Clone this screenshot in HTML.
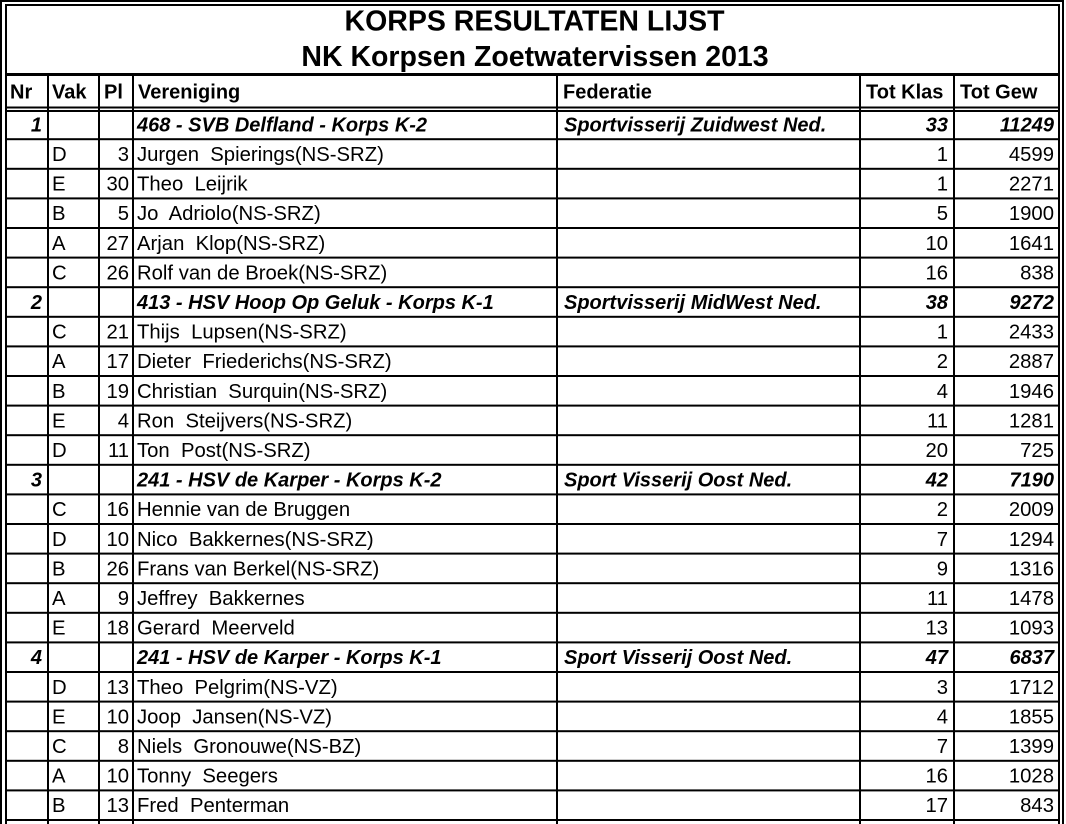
<!DOCTYPE html>
<html><head><meta charset="utf-8"><style>
html,body{margin:0;padding:0;background:#fff;}
svg{display:block;}
text{font-family:"Liberation Sans",Arial,sans-serif;font-size:20.3px;fill:#000;white-space:pre;}
.b{font-weight:bold;font-size:20px;}
.bi{font-weight:bold;font-style:italic;font-size:20px;}
.t{font-weight:bold;font-size:28.5px;}
.r{text-anchor:end;}
</style></head><body>
<svg width="1066" height="824" viewBox="0 0 1066 824" xmlns="http://www.w3.org/2000/svg">
<rect x="0" y="0" width="1066" height="824" fill="#fff"/>
<g fill="#000">
<rect x="0" y="0" width="1064" height="2"/>
<rect x="0" y="0" width="2" height="824"/>
<rect x="1062" y="0" width="2" height="824"/>
<rect x="5" y="4" width="1055" height="2"/>
<rect x="5" y="4" width="2" height="820"/>
<rect x="1058" y="4" width="2" height="820"/>
<rect x="5" y="73" width="1055" height="3"/>
<rect x="5" y="106.5" width="1055" height="2"/>
<rect x="5" y="110" width="1055" height="2"/>
<rect x="47" y="76" width="2" height="748"/>
<rect x="98" y="76" width="2" height="748"/>
<rect x="132" y="76" width="2" height="748"/>
<rect x="556" y="76" width="2" height="748"/>
<rect x="859" y="76" width="2" height="748"/>
<rect x="953" y="76" width="2" height="748"/>
<rect x="5" y="138.2" width="1055" height="2"/>
<rect x="5" y="167.8" width="1055" height="2"/>
<rect x="5" y="197.4" width="1055" height="2"/>
<rect x="5" y="227.0" width="1055" height="2"/>
<rect x="5" y="256.6" width="1055" height="2"/>
<rect x="5" y="286.2" width="1055" height="2"/>
<rect x="5" y="315.8" width="1055" height="2"/>
<rect x="5" y="345.4" width="1055" height="2"/>
<rect x="5" y="375.0" width="1055" height="2"/>
<rect x="5" y="404.6" width="1055" height="2"/>
<rect x="5" y="434.2" width="1055" height="2"/>
<rect x="5" y="463.8" width="1055" height="2"/>
<rect x="5" y="493.4" width="1055" height="2"/>
<rect x="5" y="523.0" width="1055" height="2"/>
<rect x="5" y="552.6" width="1055" height="2"/>
<rect x="5" y="582.2" width="1055" height="2"/>
<rect x="5" y="611.8" width="1055" height="2"/>
<rect x="5" y="641.4" width="1055" height="2"/>
<rect x="5" y="671.0" width="1055" height="2"/>
<rect x="5" y="700.6" width="1055" height="2"/>
<rect x="5" y="730.2" width="1055" height="2"/>
<rect x="5" y="759.8" width="1055" height="2"/>
<rect x="5" y="789.4" width="1055" height="2"/>
<rect x="5" y="819.0" width="1055" height="2"/>
</g>

<text class="t" x="534.5" y="30.5" text-anchor="middle">KORPS RESULTATEN LIJST</text>
<text class="t" x="535" y="66" text-anchor="middle">NK Korpsen Zoetwatervissen 2013</text>

<text class="b" x="10" y="98.7">Nr</text>
<text class="b" x="52" y="98.7">Vak</text>
<text class="b" x="104" y="98.7">Pl</text>
<text class="b" x="138" y="98.7">Vereniging</text>
<text class="b" x="563" y="98.7">Federatie</text>
<text class="b" x="866" y="98.7">Tot Klas</text>
<text class="b" x="960" y="98.7">Tot Gew</text>

<text class="bi r" x="42" y="131.4">1</text>
<text class="bi" x="137" y="131.4">468 - SVB Delfland - Korps K-2</text>
<text class="bi" x="564" y="131.4">Sportvisserij Zuidwest Ned.</text>
<text class="bi r" x="948" y="131.4">33</text>
<text class="bi r" x="1054" y="131.4">11249</text>

<text x="52" y="161.0">D</text><text class="r" x="129" y="161.0">3</text><text x="137" y="161.0">Jurgen  Spierings(NS-SRZ)</text><text class="r" x="948" y="161.0">1</text><text class="r" x="1054" y="161.0">4599</text>
<text x="52" y="190.6">E</text><text class="r" x="129" y="190.6">30</text><text x="137" y="190.6">Theo  Leijrik</text><text class="r" x="948" y="190.6">1</text><text class="r" x="1054" y="190.6">2271</text>
<text x="52" y="220.2">B</text><text class="r" x="129" y="220.2">5</text><text x="137" y="220.2">Jo  Adriolo(NS-SRZ)</text><text class="r" x="948" y="220.2">5</text><text class="r" x="1054" y="220.2">1900</text>
<text x="52" y="249.8">A</text><text class="r" x="129" y="249.8">27</text><text x="137" y="249.8">Arjan  Klop(NS-SRZ)</text><text class="r" x="948" y="249.8">10</text><text class="r" x="1054" y="249.8">1641</text>
<text x="52" y="279.4">C</text><text class="r" x="129" y="279.4">26</text><text x="137" y="279.4">Rolf van de Broek(NS-SRZ)</text><text class="r" x="948" y="279.4">16</text><text class="r" x="1054" y="279.4">838</text>

<text class="bi r" x="42" y="309.0">2</text>
<text class="bi" x="137" y="309.0">413 - HSV Hoop Op Geluk - Korps K-1</text>
<text class="bi" x="564" y="309.0">Sportvisserij MidWest Ned.</text>
<text class="bi r" x="948" y="309.0">38</text>
<text class="bi r" x="1054" y="309.0">9272</text>

<text x="52" y="338.6">C</text><text class="r" x="129" y="338.6">21</text><text x="137" y="338.6">Thijs  Lupsen(NS-SRZ)</text><text class="r" x="948" y="338.6">1</text><text class="r" x="1054" y="338.6">2433</text>
<text x="52" y="368.2">A</text><text class="r" x="129" y="368.2">17</text><text x="137" y="368.2">Dieter  Friederichs(NS-SRZ)</text><text class="r" x="948" y="368.2">2</text><text class="r" x="1054" y="368.2">2887</text>
<text x="52" y="397.8">B</text><text class="r" x="129" y="397.8">19</text><text x="137" y="397.8">Christian  Surquin(NS-SRZ)</text><text class="r" x="948" y="397.8">4</text><text class="r" x="1054" y="397.8">1946</text>
<text x="52" y="427.4">E</text><text class="r" x="129" y="427.4">4</text><text x="137" y="427.4">Ron  Steijvers(NS-SRZ)</text><text class="r" x="948" y="427.4">11</text><text class="r" x="1054" y="427.4">1281</text>
<text x="52" y="457.0">D</text><text class="r" x="129" y="457.0">11</text><text x="137" y="457.0">Ton  Post(NS-SRZ)</text><text class="r" x="948" y="457.0">20</text><text class="r" x="1054" y="457.0">725</text>

<text class="bi r" x="42" y="486.6">3</text>
<text class="bi" x="137" y="486.6">241 - HSV de Karper - Korps K-2</text>
<text class="bi" x="564" y="486.6">Sport Visserij Oost Ned.</text>
<text class="bi r" x="948" y="486.6">42</text>
<text class="bi r" x="1054" y="486.6">7190</text>

<text x="52" y="516.2">C</text><text class="r" x="129" y="516.2">16</text><text x="137" y="516.2">Hennie van de Bruggen</text><text class="r" x="948" y="516.2">2</text><text class="r" x="1054" y="516.2">2009</text>
<text x="52" y="545.8">D</text><text class="r" x="129" y="545.8">10</text><text x="137" y="545.8">Nico  Bakkernes(NS-SRZ)</text><text class="r" x="948" y="545.8">7</text><text class="r" x="1054" y="545.8">1294</text>
<text x="52" y="575.4">B</text><text class="r" x="129" y="575.4">26</text><text x="137" y="575.4">Frans van Berkel(NS-SRZ)</text><text class="r" x="948" y="575.4">9</text><text class="r" x="1054" y="575.4">1316</text>
<text x="52" y="605.0">A</text><text class="r" x="129" y="605.0">9</text><text x="137" y="605.0">Jeffrey  Bakkernes</text><text class="r" x="948" y="605.0">11</text><text class="r" x="1054" y="605.0">1478</text>
<text x="52" y="634.6">E</text><text class="r" x="129" y="634.6">18</text><text x="137" y="634.6">Gerard  Meerveld</text><text class="r" x="948" y="634.6">13</text><text class="r" x="1054" y="634.6">1093</text>

<text class="bi r" x="42" y="664.2">4</text>
<text class="bi" x="137" y="664.2">241 - HSV de Karper - Korps K-1</text>
<text class="bi" x="564" y="664.2">Sport Visserij Oost Ned.</text>
<text class="bi r" x="948" y="664.2">47</text>
<text class="bi r" x="1054" y="664.2">6837</text>

<text x="52" y="693.8">D</text><text class="r" x="129" y="693.8">13</text><text x="137" y="693.8">Theo  Pelgrim(NS-VZ)</text><text class="r" x="948" y="693.8">3</text><text class="r" x="1054" y="693.8">1712</text>
<text x="52" y="723.4">E</text><text class="r" x="129" y="723.4">10</text><text x="137" y="723.4">Joop  Jansen(NS-VZ)</text><text class="r" x="948" y="723.4">4</text><text class="r" x="1054" y="723.4">1855</text>
<text x="52" y="753.0">C</text><text class="r" x="129" y="753.0">8</text><text x="137" y="753.0">Niels  Gronouwe(NS-BZ)</text><text class="r" x="948" y="753.0">7</text><text class="r" x="1054" y="753.0">1399</text>
<text x="52" y="782.6">A</text><text class="r" x="129" y="782.6">10</text><text x="137" y="782.6">Tonny  Seegers</text><text class="r" x="948" y="782.6">16</text><text class="r" x="1054" y="782.6">1028</text>
<text x="52" y="812.2">B</text><text class="r" x="129" y="812.2">13</text><text x="137" y="812.2">Fred  Penterman</text><text class="r" x="948" y="812.2">17</text><text class="r" x="1054" y="812.2">843</text>
</svg>
</body></html>
